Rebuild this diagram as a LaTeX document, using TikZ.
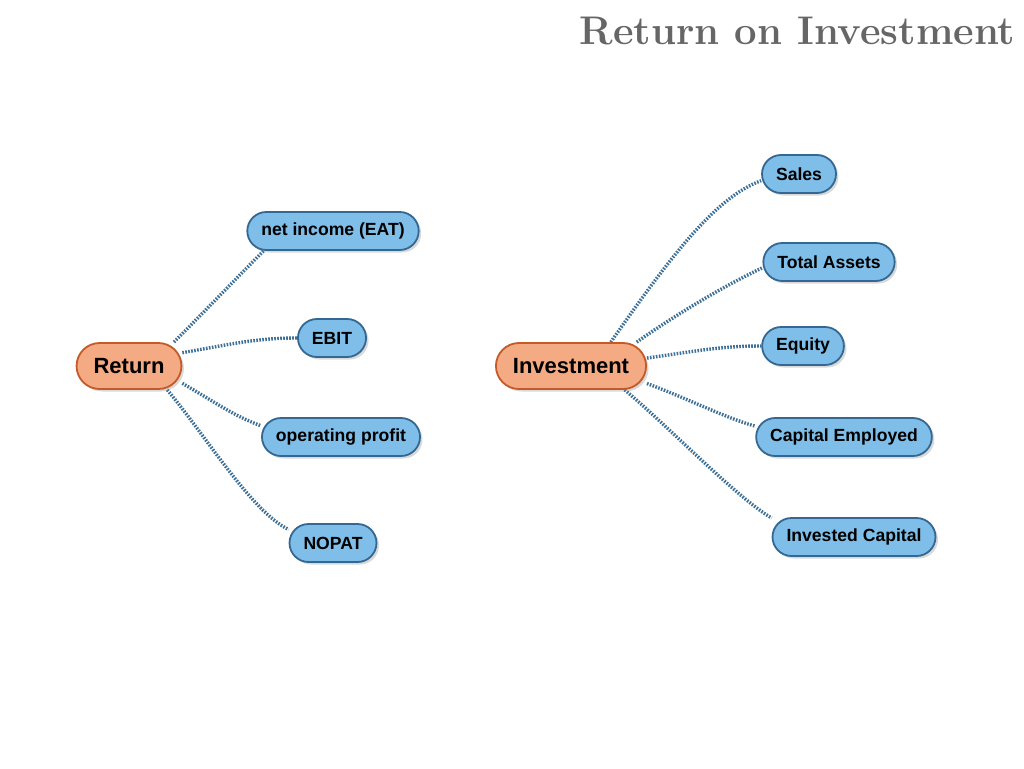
\documentclass[tikz,border=0pt]{standalone}
\usepackage{fontspec}
\newfontfamily\nodefont{Liberation Sans}
\usetikzlibrary{shadows,backgrounds}
\definecolor{kidfill}{RGB}{126,190,232}
\definecolor{kiddraw}{RGB}{52,104,146}
\definecolor{rootfill}{RGB}{244,170,130}
\definecolor{rootdraw}{RGB}{196,90,40}
\definecolor{linkcol}{RGB}{60,112,152}
\definecolor{titlecol}{RGB}{102,102,102}
\tikzset{
  rootbox/.style={draw=rootdraw, fill=rootfill, line width=1.8pt, rounded corners=23pt,
    minimum height=46pt, inner xsep=17pt, inner ysep=0pt,
    font=\nodefont\bfseries\fontsize{22}{24}\selectfont,
    drop shadow={opacity=0.3, shadow xshift=2.5pt, shadow yshift=-2.5pt}},
  kidbox/.style={draw=kiddraw, fill=kidfill, line width=1.8pt, rounded corners=19pt,
    minimum height=38pt, inner xsep=14pt, inner ysep=0pt,
    font=\nodefont\bfseries\fontsize{17.6}{20}\selectfont,
    drop shadow={opacity=0.3, shadow xshift=2.5pt, shadow yshift=-2.5pt}},
  link/.style={draw=linkcol, line width=3.4pt, dash pattern=on 1.6pt off 1.4pt}
}
\begin{document}
\begin{tikzpicture}[x=1pt,y=1pt]
\useasboundingbox (0,-768) rectangle (1024,0);
\node[anchor=base east, text=titlecol, font=\bfseries\fontsize{40}{42}\selectfont] (title) at (1019,-45) {Return on Investment};

\node[rootbox] (ret) at (129,-366) {Return};
\node[kidbox] (ni) at (333,-231) {net income (EAT)};
\node[kidbox] (ebit) at (332,-338) {EBIT};
\node[kidbox] (op) at (341,-437) {operating profit};
\node[kidbox] (nopat) at (333,-543) {NOPAT};

\node[rootbox] (inv) at (571,-366) {Investment};
\node[kidbox] (sales) at (799,-174) {Sales};
\node[kidbox] (ta) at (829,-262) {Total Assets};
\node[kidbox] (eq) at (803,-346) {Equity};
\node[kidbox] (ce) at (844,-437) {Capital Employed};
\node[kidbox] (ic) at (854,-537) {Invested Capital};

\begin{scope}[on background layer]
\draw[link] (ret.28) .. controls +(45:40) and +(225:35) .. (ni.196);
\draw[link] (ret.14) .. controls +(10:50) and +(180:40) .. (ebit.west);
\draw[link] (ret.-18) .. controls +(-30:40) and +(160:30) .. (op.172);
\draw[link] (ret.-32) .. controls +(-50:60) and +(155:40) .. (nopat.163);

\draw[link] (inv.31) .. controls +(55:100) and +(200:50) .. (sales.190);
\draw[link] (inv.20) .. controls +(35:50) and +(205:40) .. (ta.185);
\draw[link] (inv.6) .. controls +(8:50) and +(180:40) .. (eq.west);
\draw[link] (inv.-13) .. controls +(-20:40) and +(165:30) .. (ce.173);
\draw[link] (inv.-24) .. controls +(-40:60) and +(150:40) .. (ic.167);
\end{scope}
\end{tikzpicture}
\end{document}
